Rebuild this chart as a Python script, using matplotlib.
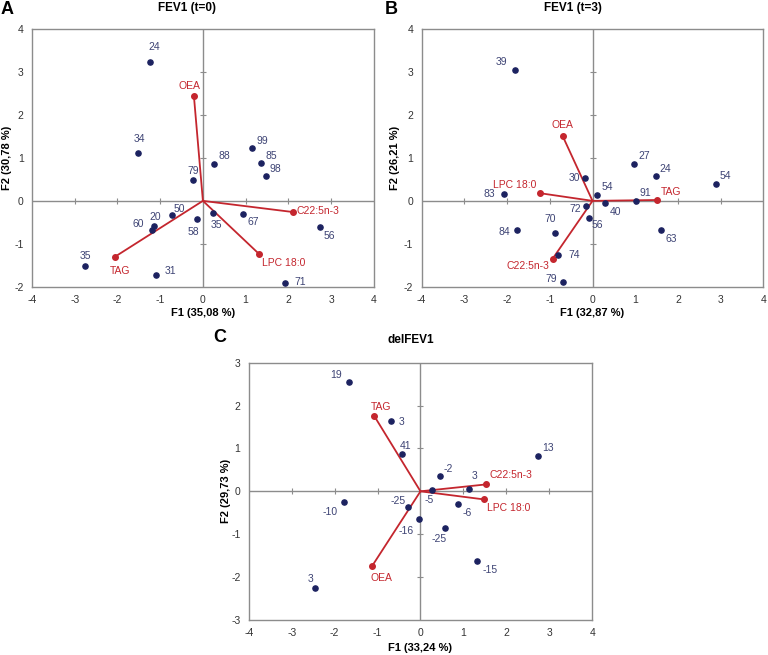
import numpy as np
import matplotlib
matplotlib.use('Agg')
import matplotlib.pyplot as plt

plt.rcParams['font.family'] = ['Liberation Sans', 'DejaVu Sans']
plt.rcParams['axes.unicode_minus'] = False

# ---- panel A : FEV1 (t=0)
a_labels = ['24', '34', '79', '88', '99', '85', '98', '50', '20', '60', '58', '35', '67', '56', '35', '31', '71']
a_x = [-1.23, -1.53, -0.24, 0.26, 1.16, 1.36, 1.47, -0.73, -1.14, -1.19, -0.14, 0.23, 0.95, 2.74, -2.75, -1.10, 1.91]
a_y = [3.24, 1.12, 0.48, 0.85, 1.23, 0.89, 0.57, -0.33, -0.58, -0.68, -0.42, -0.29, -0.31, -0.61, -1.52, -1.72, -1.90]
a_vars = ['OEA', 'C22:5n-3', 'LPC 18:0', 'TAG']
a_vx = [-0.21, 2.11, 1.32, -2.06]
a_vy = [2.43, -0.26, -1.24, -1.30]

# ---- panel B : FEV1 (t=3)
b_labels = ['39', '30', '54', '83', '72', '40', '91', '27', '24', '54', '56', '70', '84', '63', '74', '79']
b_x = [-1.81, -0.18, 0.11, -2.07, -0.16, 0.30, 1.01, 0.97, 1.48, 2.88, -0.09, -0.87, -1.77, 1.61, -0.80, -0.69]
b_y = [3.05, 0.54, 0.13, 0.16, -0.11, -0.04, 0.0, 0.85, 0.58, 0.40, -0.39, -0.74, -0.68, -0.67, -1.26, -1.88]
b_vars = ['OEA', 'LPC 18:0', 'TAG', 'C22:5n-3']
b_vx = [-0.70, -1.24, 1.51, -0.93]
b_vy = [1.51, 0.18, 0.02, -1.34]

# ---- panel C : delFEV1
c_labels = ['19', '3', '41', '13', '-2', '3', '-5', '-10', '-25', '-6', '-16', '-25', '-15', '3']
c_x = [-1.67, -0.68, -0.42, 2.74, 0.46, 1.14, 0.26, -1.78, -0.29, 0.88, -0.04, 0.58, 1.31, -2.46]
c_y = [2.54, 1.64, 0.87, 0.83, 0.36, 0.05, 0.04, -0.25, -0.37, -0.30, -0.64, -0.85, -1.62, -2.25]
c_vars = ['TAG', 'C22:5n-3', 'LPC 18:0', 'OEA']
c_vx = [-1.08, 1.52, 1.49, -1.12]
c_vy = [1.76, 0.16, -0.19, -1.73]

# label offsets in pixels (dx, dy up) and horizontal alignment
a_off = [(4, 15), (2, 14), (1, 9), (9, 8), (9, 7), (9, 7), (9, 7), (7, 6), (1, 9), (-13, 6),
         (-4, -13), (4, -12), (9, -8), (9, -9), (0, 10), (14, 4), (15, 1)]
a_voff = [(-4, 10, 'center'), (3, 1, 'left'), (3, -9, 'left'), (5, -14, 'center')]
b_off = [(-13, 8), (-10, 0), (9, 8), (-14, 0), (-10, -3), (9, -9), (9, 8), (9, 8), (9, 7), (9, 8),
         (8, -7), (-5, 14), (-12, -2), (9, -9), (15, 0), (-11, 3)]
b_voff = [(0, 11, 'center'), (-3, 8, 'right'), (4, 8, 'left'), (-3, -7, 'right')]
c_off = [(-12, 7), (12, -1), (3, 8), (9, 8), (8, 7), (5, 13), (-2, -10), (-11, -10), (-7, 6), (9, -9),
         (-10, -12), (-6, -11), (11, -9), (-4, 9)]
c_voff = [(7, 9, 'center'), (4, 9, 'left'), (3, -9, 'left'), (9, -12, 'center')]

navy = '#1c2260'
lab_col = '#3d4374'
red = '#c4262e'
grey = '#8c8c8c'
px = 0.72


def biplot(ax, xs, ys, labs, offs, vx, vy, vlabs, voffs, ylim, xlab, ylab, ylab_x, xlab_y):
    ax.set_xlim(-4, 4)
    ax.set_ylim(ylim)
    ax.axhline(0, color=grey, lw=1, zorder=1)
    ax.axvline(0, color=grey, lw=1, zorder=1)
    xt = [t for t in range(-3, 4) if t != 0]
    yt = [t for t in range(ylim[0] + 1, ylim[1]) if t != 0]
    ax.plot(xt, np.zeros(len(xt)), ls='none', marker='|', ms=5, mew=0.8, color=grey, zorder=1)
    ax.plot(np.zeros(len(yt)), yt, ls='none', marker='_', ms=5, mew=0.8, color=grey, zorder=1)
    for i in range(len(vx)):
        ax.plot([0, vx[i]], [0, vy[i]], color=red, lw=1.3, zorder=2)
    ax.scatter(vx, vy, s=16, color=red, zorder=3)
    for i in range(len(vx)):
        dx, dy, ha = voffs[i]
        ax.annotate(vlabs[i], (vx[i], vy[i]), xytext=(dx * px, dy * px), textcoords='offset points',
                    ha=ha, va='center', fontsize=7.5, color=red)
    ax.scatter(xs, ys, s=14, color=navy, zorder=4)
    for i in range(len(xs)):
        dx, dy = offs[i]
        ha = 'center'
        if dx >= 7:
            ha = 'left'
            dx = dx - 5
        elif dx <= -7:
            ha = 'right'
            dx = dx + 5
        ax.annotate(labs[i], (xs[i], ys[i]), xytext=(dx * px, dy * px), textcoords='offset points',
                    ha=ha, va='center', fontsize=7.5, color=lab_col)
    ax.set_xticks(range(-4, 5))
    ax.set_yticks(range(ylim[0], ylim[1] + 1))
    ax.tick_params(length=0, labelsize=7.5, labelcolor='#333333', pad=6)
    for s in ax.spines.values():
        s.set_color(grey)
        s.set_linewidth(1)
    ax.set_xlabel(xlab, fontsize=8, fontweight='bold')
    ax.set_ylabel(ylab, fontsize=8, fontweight='bold')
    ax.xaxis.set_label_coords(0.5, xlab_y)
    ax.yaxis.set_label_coords(ylab_x, 0.5)


fig = plt.figure(figsize=(7.68, 6.55), dpi=100)
axA = fig.add_axes([0.0417, 0.562, 0.445, 0.394])
axB = fig.add_axes([0.549, 0.562, 0.445, 0.394])
axC = fig.add_axes([0.324, 0.0534, 0.447, 0.393])

biplot(axA, a_x, a_y, a_labels, a_off, a_vx, a_vy, a_vars, a_voff, (-2, 4),
       'F1 (35,08 %)', 'F2 (30,78 %)', -0.058, -0.08)
biplot(axB, b_x, b_y, b_labels, b_off, b_vx, b_vy, b_vars, b_voff, (-2, 4),
       'F1 (32,87 %)', 'F2 (26,21 %)', -0.064, -0.08)
biplot(axC, c_x, c_y, c_labels, c_off, c_vx, c_vy, c_vars, c_voff, (-3, 3),
       'F1 (33,24 %)', 'F2 (29,73 %)', -0.052, -0.09)

fig.text(187 / 768, 1 - 8 / 655, 'FEV1 (t=0)', ha='center', va='center', fontsize=8.5, fontweight='bold')
fig.text(573 / 768, 1 - 8 / 655, 'FEV1 (t=3)', ha='center', va='center', fontsize=8.5, fontweight='bold')
fig.text(411 / 768, 1 - 340 / 655, 'delFEV1', ha='center', va='center', fontsize=8.5, fontweight='bold')
fig.text(7 / 768, 1 - 9 / 655, 'A', ha='center', va='center', fontsize=13, fontweight='bold')
fig.text(391 / 768, 1 - 9 / 655, 'B', ha='center', va='center', fontsize=13, fontweight='bold')
fig.text(220 / 768, 1 - 337 / 655, 'C', ha='center', va='center', fontsize=13, fontweight='bold')

fig.savefig('out.png', dpi=100)
